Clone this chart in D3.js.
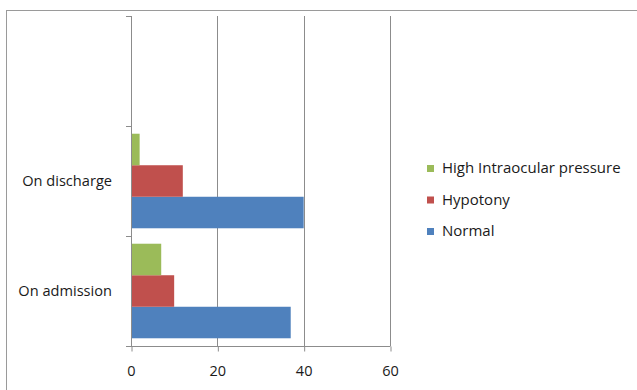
<!DOCTYPE html>
<html>
<head>
<meta charset="utf-8">
<script src="https://cdn.jsdelivr.net/npm/d3@7"></script>
<style>
  html, body { margin: 0; padding: 0; background: #fff; }
  svg { display: block; }
  text { font-family: "Open Sans", sans-serif; fill: #1a1a1a; }
</style>
</head>
<body>
<svg id="chart" width="637" height="390"></svg>
<script>
// Categories, bottom to top (top band is an empty row in the sheet)
const categories = ["On admission", "On discharge", ""];
const seriesNames = ["Normal", "Hypotony", "High Intraocular pressure"];
const normal = [37, 40, null];
const hypotony = [10, 12, null];
const highIOP = [7, 2, null];
const xTicks = [0, 20, 40, 60];
const colors = ["#4F81BD", "#C0504D", "#9BBB59"];

const seriesValues = [normal, hypotony, highIOP];

const svg = d3.select("#chart");
const W = 637, H = 390;
const FONT = "'Open Sans', sans-serif";

// outer chart frame
svg.append("rect")
  .attr("x", 6.5).attr("y", 10.5)
  .attr("width", W + 10).attr("height", H + 10)
  .attr("fill", "none").attr("stroke", "#9a9a9a").attr("stroke-width", 1);

const plot = { left: 131, right: 390, top: 16, bottom: 346 };

const x = d3.scaleLinear().domain([0, 60]).range([plot.left, plot.right]);
const y = d3.scaleBand().domain(categories)
  .range([plot.bottom, plot.top]).paddingInner(0).paddingOuter(0);
const inner = d3.scaleBand().domain(d3.range(seriesNames.length))
  .range([0, y.bandwidth()]).paddingInner(0).paddingOuter(0.245);

// vertical gridlines
svg.append("g").selectAll("line")
  .data(xTicks.filter(t => t > 0))
  .join("line")
  .attr("x1", d => Math.round(x(d)) + 0.5).attr("x2", d => Math.round(x(d)) + 0.5)
  .attr("y1", plot.top).attr("y2", plot.bottom)
  .attr("stroke", "#8c8c8c").attr("stroke-width", 1);

// bars: first series sits lowest within each category
seriesValues.forEach((vals, si) => {
  svg.append("g").selectAll("rect")
    .data(categories.map((c, i) => ({ c, v: vals[i] })).filter(d => d.v != null))
    .join("rect")
    .attr("x", x(0))
    .attr("y", d => y(d.c) + y.bandwidth() - inner(si) - inner.bandwidth())
    .attr("width", d => x(d.v) - x(0))
    .attr("height", inner.bandwidth())
    .attr("fill", colors[si]);
});

// x axis
const xAxis = d3.axisBottom(x).tickValues(xTicks).tickSize(5).tickPadding(14);
const gx = svg.append("g").attr("transform", `translate(0,${plot.bottom + 0.5})`).call(xAxis);
gx.select(".domain").attr("stroke", "#8c8c8c").attr("d", `M${plot.left},0H${x(60) + 0.5}`);
gx.selectAll(".tick line").attr("stroke", "#8c8c8c").attr("transform", "translate(0.5,0)");
gx.selectAll(".tick text").attr("font-size", 14.5).attr("fill", "#1a1a1a")
  .attr("font-family", FONT);

// y axis: tick marks on band boundaries, labels centred in bands
const yLine = svg.append("g");
yLine.append("line")
  .attr("x1", plot.left + 0.5).attr("x2", plot.left + 0.5)
  .attr("y1", plot.top).attr("y2", plot.bottom + 0.5)
  .attr("stroke", "#8c8c8c");
const bounds = categories.map(c => y(c)).concat([plot.bottom]);
yLine.selectAll("line.tk").data(bounds).join("line").attr("class", "tk")
  .attr("x1", plot.left - 5).attr("x2", plot.left + 0.5)
  .attr("y1", d => Math.round(d) + 0.5).attr("y2", d => Math.round(d) + 0.5)
  .attr("stroke", "#8c8c8c");
yLine.selectAll("text").data(categories).join("text")
  .attr("x", 112).attr("y", d => y(d) + y.bandwidth() / 2 + 1)
  .attr("text-anchor", "end").attr("dominant-baseline", "middle")
  .attr("font-size", 14.6).text(d => d);

// legend (reverse order: top-most series listed first)
const legendItems = seriesNames.map((n, i) => ({ n, c: colors[i] })).reverse();
const lg = svg.append("g").attr("transform", "translate(427,169)");
const li = lg.selectAll("g").data(legendItems).join("g")
  .attr("transform", (d, i) => `translate(0,${i * 31.5})`);
li.append("rect").attr("x", 0).attr("y", -4).attr("width", 7).attr("height", 7).attr("fill", d => d.c);
li.append("text").attr("x", 15).attr("y", 0).attr("dominant-baseline", "middle")
  .attr("font-size", 15).text(d => d.n);
</script>
</body>
</html>
